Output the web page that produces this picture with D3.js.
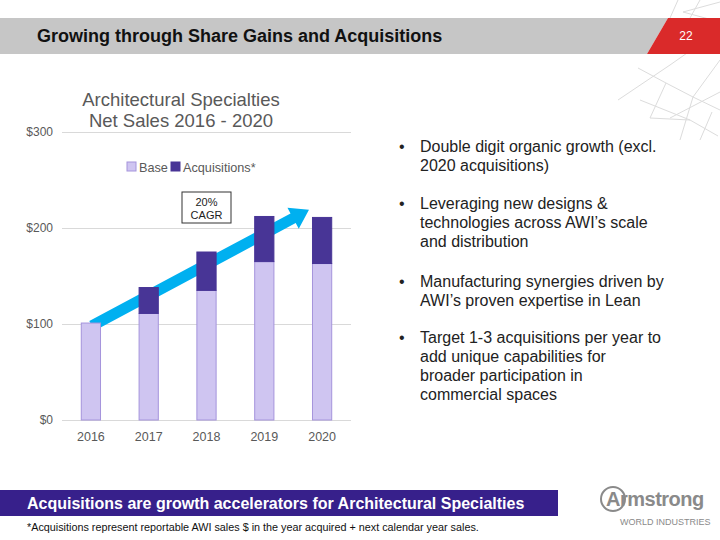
<!DOCTYPE html>
<html>
<head>
<meta charset="utf-8">
<script src="https://d3js.org/d3.v7.min.js"></script>
<style>
  body { margin: 0; background: #fff; }
  text { font-family: Arial, "Liberation Sans", sans-serif; }
</style>
</head>
<body>
<div id="slide"></div>
<script>
// chart data
var years = ["2016", "2017", "2018", "2019", "2020"];
var base = [101, 111, 135, 165, 163];
var acquisitions = [0, 27, 40, 47, 48];
var yTicks = [0, 100, 200, 300];
var seriesNames = ["Base", "Acquisitions*"];
// CAGR arrow: [year, value] at start and end
var arrowFrom = ["2016", 98];
var arrowTo = ["2020", 219];

var bullets = [
  ["Double digit organic growth (excl.", "2020 acquisitions)"],
  ["Leveraging new designs &", "technologies across AWI\u2019s scale", "and distribution"],
  ["Manufacturing synergies driven by", "AWI\u2019s proven expertise in Lean"],
  ["Target 1-3 acquisitions per year to", "add unique capabilities for", "broader participation in", "commercial spaces"]
];

var width = 720, height = 540;
var svg = d3.select("#slide").append("svg").attr("width", width).attr("height", height);

// decorative lattice top right
var lat = svg.append("g").attr("stroke", "#dcdcdc").attr("stroke-width", 1).attr("fill", "none");
var latLines = [
  [[720,2],[683,12],[720,22]], [[700,0],[690,18]], [[678,0],[670,18]],
  [[638,68],[666,83],[693,97],[720,110]], [[618,100],[670,65],[717,32]],
  [[640,100],[690,120],[718,136]], [[666,83],[650,118]], [[693,97],[680,140]],
  [[670,118],[720,92]], [[712,112],[700,140]], [[720,60],[693,97]], [[650,118],[690,120]]
];
latLines.forEach(function(l) { lat.append("path").attr("d", d3.line()(l)); });

// header bar
svg.append("polygon").attr("points", "0,18 668,18 647,54 0,54").attr("fill", "#c6c6c6");
svg.append("polygon").attr("points", "668,18 720,18 720,54 647,54").attr("fill", "#da2a2a");
svg.append("text").attr("x", 37).attr("y", 42).text("Growing through Share Gains and Acquisitions")
  .style("font-size", "18px").style("font-weight", "bold").attr("fill", "#111");
svg.append("text").attr("x", 686).attr("y", 40).attr("text-anchor", "middle").text("22")
  .style("font-size", "12px").attr("fill", "#fff");

// chart
var x = d3.scaleBand().domain(years).range([62, 351]).paddingInner(0.65).paddingOuter(0.325);
var y = d3.scaleLinear().domain([0, 300]).range([420, 132]);

svg.append("text").attr("x", 181).attr("y", 106).attr("text-anchor", "middle")
  .text("Architectural Specialties").style("font-size", "18.5px").attr("fill", "#595959");
svg.append("text").attr("x", 181).attr("y", 127).attr("text-anchor", "middle")
  .text("Net Sales 2016 - 2020").style("font-size", "18.5px").attr("fill", "#595959");

var yAxis = svg.append("g").attr("transform", "translate(62,0)")
  .call(d3.axisLeft(y).tickValues(yTicks).tickSize(-289).tickFormat(function(d) { return "$" + d; }));
yAxis.select(".domain").remove();
yAxis.selectAll(".tick line").attr("stroke", "#d9d9d9");
yAxis.selectAll(".tick text").attr("x", -9).attr("fill", "#595959").style("font-size", "12px");

var xAxis = svg.append("g").attr("transform", "translate(0,420)")
  .call(d3.axisBottom(x).tickSize(0));
xAxis.select(".domain").remove();
xAxis.selectAll(".tick text").attr("dy", "1.2em").attr("y", 6).attr("fill", "#595959").style("font-size", "12.5px");

// CAGR arrow (behind the bars)
var x0 = x(arrowFrom[0]) + x.bandwidth() * 0.55, y0 = y(arrowFrom[1]);
var x1 = x(arrowTo[0]) - 3, y1 = y(arrowTo[1]);
var len = Math.hypot(x1 - x0, y1 - y0), ang = Math.atan2(y1 - y0, x1 - x0) * 180 / Math.PI;
var hw = 5.5, headL = 18, headW = 12;
svg.append("polygon")
  .attr("points", [[0,-hw],[len-headL,-hw],[len-headL,-headW],[len,0],[len-headL,headW],[len-headL,hw],[0,hw]].join(" "))
  .attr("transform", "translate(" + x0 + "," + y0 + ") rotate(" + ang + ")")
  .attr("fill", "#00b0f0");

var stackData = years.map(function(yr, i) { return {year: yr, base: base[i], acq: acquisitions[i]}; });
var stack = d3.stack().keys(["base", "acq"])(stackData);
var fills = ["#cfc5f1", "#483596"];
var strokes = ["#a594dc", "#483596"];

svg.selectAll(".series").data(stack).join("g").attr("class", "series")
  .attr("fill", function(d, i) { return fills[i]; })
  .attr("stroke", function(d, i) { return strokes[i]; })
  .selectAll("rect").data(function(d) { return d.filter(function(p) { return p[1] > p[0]; }); })
  .join("rect")
  .attr("x", function(d) { return x(d.data.year) + 0.5; })
  .attr("width", x.bandwidth() - 1)
  .attr("y", function(d) { return y(d[1]); })
  .attr("height", function(d) { return y(d[0]) - y(d[1]); });

// legend
var legend = svg.append("g").attr("transform", "translate(127,162)");
var lx = [0, 44];
seriesNames.forEach(function(n, i) {
  legend.append("rect").attr("x", lx[i]).attr("y", 0).attr("width", 9).attr("height", 9)
    .attr("fill", fills[i]).attr("stroke", strokes[i]);
  legend.append("text").attr("x", lx[i] + 12).attr("y", 9.5).text(n)
    .style("font-size", "12.7px").attr("fill", "#595959");
});

// CAGR box
svg.append("rect").attr("x", 182).attr("y", 192).attr("width", 49).attr("height", 31)
  .attr("fill", "#fff").attr("stroke", "#333").attr("stroke-width", 1);
svg.append("text").attr("x", 206.5).attr("y", 206).attr("text-anchor", "middle").text("20%")
  .style("font-size", "11px").attr("fill", "#222");
svg.append("text").attr("x", 206.5).attr("y", 219).attr("text-anchor", "middle").text("CAGR")
  .style("font-size", "11px").attr("fill", "#222");

// bullets
var startY = [152, 209, 287, 343];
var bg = svg.append("g");
bullets.forEach(function(lines, i) {
  bg.append("text").attr("x", 399).attr("y", startY[i]).text("\u2022")
    .style("font-size", "16px").attr("fill", "#222");
  lines.forEach(function(l, j) {
    bg.append("text").attr("x", 420).attr("y", startY[i] + j * 19).text(l)
      .style("font-size", "16px").attr("fill", "#222");
  });
});

// bottom banner
svg.append("rect").attr("x", 0).attr("y", 490).attr("width", 558).attr("height", 26).attr("fill", "#37208b");
svg.append("text").attr("x", 27).attr("y", 509).text("Acquisitions are growth accelerators for Architectural Specialties")
  .style("font-size", "16px").style("font-weight", "bold").attr("fill", "#fff");
svg.append("text").attr("x", 27).attr("y", 531)
  .text("*Acquisitions represent reportable AWI sales $ in the year acquired + next calendar year sales.")
  .style("font-size", "10.8px").attr("fill", "#111");

// logo
svg.append("circle").attr("cx", 613).attr("cy", 499).attr("r", 12).attr("fill", "none")
  .attr("stroke", "#8a8a8a").attr("stroke-width", 2);
svg.append("text").attr("x", 606).attr("y", 506).text("Armstrong")
  .style("font-size", "20px").style("font-weight", "bold").attr("fill", "#8a8a8a").style("letter-spacing", "-0.5px");
svg.append("text").attr("x", 620).attr("y", 525).text("WORLD INDUSTRIES")
  .style("font-size", "9px").attr("fill", "#8a8a8a");
</script>
</body>
</html>
